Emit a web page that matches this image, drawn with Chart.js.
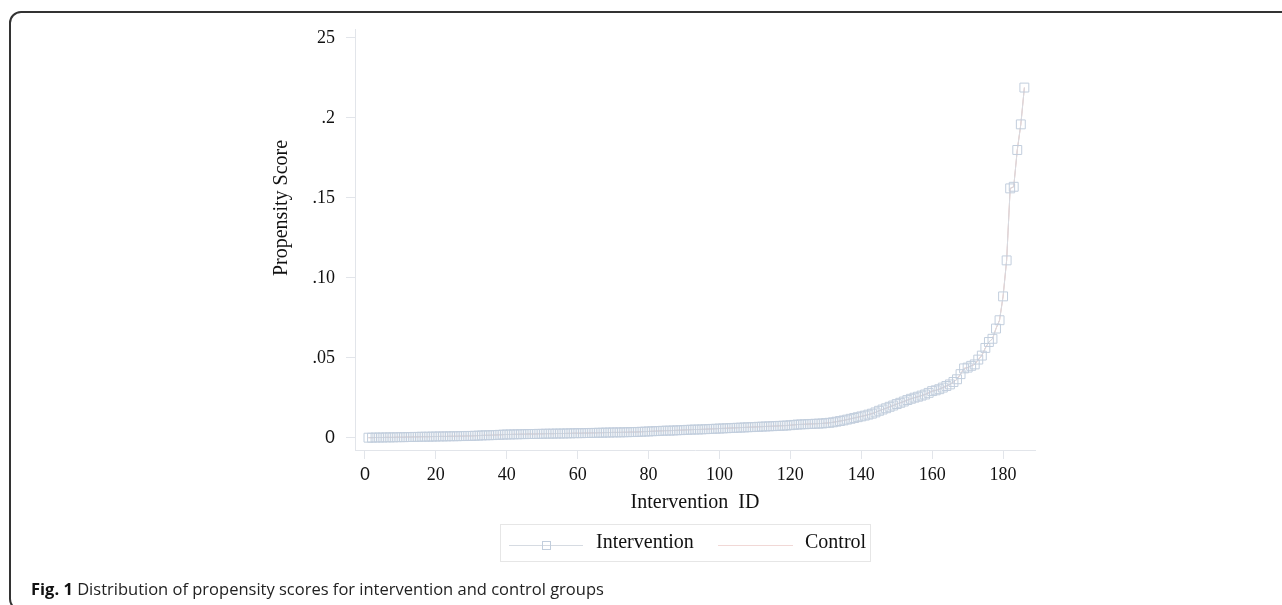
<!DOCTYPE html>
<html>
<head>
<meta charset="utf-8">
<script src="https://cdn.jsdelivr.net/npm/chart.js@4.4.1/dist/chart.umd.min.js"></script>
<style>
  html, body { margin: 0; padding: 0; background: #fff; }
  body { width: 1282px; height: 605px; position: relative; overflow: hidden; }
  #frame { position: absolute; left: 9px; top: 11px; width: 1400px; height: 600px; border: 2px solid #333; border-radius: 12px; box-sizing: border-box; }
  #wrap { position: absolute; left: 0; top: 0; width: 1282px; height: 605px; }
  #caption { position: absolute; left: 31px; top: 577px; font-family: "Open Sans"; font-size: 16.5px; color: #222; white-space: nowrap; }
  #caption b { color: #111; }
</style>
</head>
<body>
<div id="frame"></div>
<div id="wrap"><canvas id="psChart" width="1282" height="605"></canvas></div>
<div id="caption"><b>Fig. 1</b> Distribution of propensity scores for intervention and control groups</div>
<script>
// sorted propensity scores, one per intervention ID (1..186)
var interventionScores = [
  .0002,.0002,.0003,.0003,.0003,.0004,.0004,.0004,.0005,.0005,
  .0005,.0006,.0006,.0007,.0007,.0008,.0008,.0008,.0009,.0009,
  .0010,.0010,.0010,.0011,.0011,.0011,.0012,.0012,.0013,.0013,
  .0014,.0015,.0016,.0017,.0017,.0018,.0019,.0020,.0021,.0022,
  .0022,.0023,.0023,.0024,.0024,.0025,.0025,.0025,.0026,.0026,
  .0027,.0027,.0027,.0028,.0028,.0028,.0029,.0029,.0030,.0030,
  .0030,.0031,.0031,.0032,.0032,.0033,.0033,.0034,.0034,.0035,
  .0035,.0035,.0036,.0036,.0037,.0037,.0038,.0039,.0040,.0041,
  .0042,.0043,.0044,.0045,.0046,.0046,.0047,.0048,.0049,.0050,
  .0051,.0052,.0053,.0053,.0054,.0055,.0056,.0057,.0058,.0059,
  .0060,.0061,.0062,.0063,.0064,.0065,.0066,.0067,.0068,.0069,
  .0070,.0071,.0072,.0073,.0074,.0075,.0076,.0077,.0078,.0080,
  .0082,.0084,.0085,.0086,.0087,.0088,.0089,.0090,.0091,.0093,
  .0095,.0098,.0102,.0106,.0110,.0115,.0120,.0125,.0130,.0135,
  .0140,.0146,.0152,.0160,.0170,.0178,.0186,.0195,.0203,.0212,
  .0220,.0228,.0237,.0245,.0252,.0258,.0265,.0272,.0282,.0293,
  .0298,.0305,.0315,.0325,.0335,.0350,.0367,.0399,.0435,.0440,
  .0451,.0460,.0490,.0515,.0563,.0600,.0620,.0684,.0736,.0885,
  .1110,.1560,.1570,.1800,.1960,.2190
];

// matched controls, drawn over the same IDs
var controlScores = [
  .0002,.0002,.0003,.0003,.0003,.0004,.0004,.0004,.0005,.0005,
  .0005,.0006,.0006,.0007,.0007,.0008,.0008,.0008,.0009,.0009,
  .0010,.0010,.0010,.0011,.0011,.0011,.0012,.0012,.0013,.0013,
  .0014,.0015,.0016,.0017,.0017,.0018,.0019,.0020,.0021,.0022,
  .0022,.0023,.0023,.0024,.0024,.0025,.0025,.0025,.0026,.0026,
  .0027,.0027,.0027,.0028,.0028,.0028,.0029,.0029,.0030,.0030,
  .0030,.0031,.0031,.0032,.0032,.0033,.0033,.0034,.0034,.0035,
  .0035,.0035,.0036,.0036,.0037,.0037,.0038,.0039,.0040,.0041,
  .0042,.0043,.0044,.0045,.0046,.0046,.0047,.0048,.0049,.0050,
  .0051,.0052,.0053,.0053,.0054,.0055,.0056,.0057,.0058,.0059,
  .0060,.0061,.0062,.0063,.0064,.0065,.0066,.0067,.0068,.0069,
  .0070,.0071,.0072,.0073,.0074,.0075,.0076,.0077,.0078,.0080,
  .0082,.0084,.0085,.0086,.0087,.0088,.0089,.0090,.0091,.0093,
  .0095,.0098,.0102,.0106,.0110,.0115,.0120,.0125,.0130,.0135,
  .0140,.0146,.0152,.0160,.0170,.0178,.0186,.0195,.0203,.0212,
  .0220,.0228,.0237,.0245,.0252,.0258,.0265,.0272,.0282,.0293,
  .0298,.0305,.0315,.0325,.0335,.0350,.0367,.0399,.0435,.0440,
  .0451,.0460,.0490,.0515,.0563,.0600,.0620,.0684,.0736,.0885,
  .1110,.1560,.1570,.1800,.1960,.2190
];

var xTickValues = [0, 20, 40, 60, 80, 100, 120, 140, 160, 180];
var yTickValues = [0, 0.05, 0.10, 0.15, 0.20, 0.25];
var yTickLabels = ['0', '.05', '.10', '.15', '.2', '25'];
var legendLabels = ['Intervention', 'Control'];
var yTitle = 'Propensity Score';

var serif = 'Liberation Serif';
var sans = 'Liberation Sans';
var axisGrey = '#e2e5ea';
var markerColor = 'rgb(194,206,221)';
var interventionLine = 'rgb(214,219,226)';
var controlLine = 'rgba(226,160,150,0.8)';

function toPoints(arr) {
    return arr.map(function (v, i) { return { x: i + 1, y: v }; });
}

function tickFont(ctx) {
    if (ctx.tick && ctx.tick.value === 0) {
        return { family: sans, size: 18 };
    }
    return { family: serif, size: 18 };
}

// framed legend under the axis title, plus the y title (sits above centre in the original)
var extras = {
    id: 'extras',
    afterDraw: function (chart) {
        var ctx = chart.ctx;
        ctx.save();
        ctx.strokeStyle = '#e6e6e6';
        ctx.lineWidth = 1;
        ctx.strokeRect(500.5, 524.5, 370, 37);

        ctx.strokeStyle = interventionLine;
        ctx.beginPath();
        ctx.moveTo(509, 545.5);
        ctx.lineTo(583, 545.5);
        ctx.stroke();
        ctx.strokeStyle = markerColor;
        ctx.strokeRect(542.5, 541.5, 8, 8);

        ctx.strokeStyle = 'rgba(232,190,186,0.6)';
        ctx.beginPath();
        ctx.moveTo(718, 545.5);
        ctx.lineTo(793, 545.5);
        ctx.stroke();

        ctx.fillStyle = '#111';
        ctx.font = '20px "' + serif + '"';
        ctx.textBaseline = 'middle';
        ctx.fillText(legendLabels[0], 596, 543);
        ctx.fillText(legendLabels[1], 805, 543);

        ctx.translate(282, 208);
        ctx.rotate(-Math.PI / 2);
        ctx.textAlign = 'center';
        ctx.fillText(yTitle, 0, 0);
        ctx.restore();
    }
};

var psData = {
    datasets: [{
        label: legendLabels[0],
        data: toPoints(interventionScores),
        borderColor: interventionLine,
        borderWidth: 1,
        pointStyle: 'rect',
        pointRadius: 6.3,
        pointBorderWidth: 1,
        pointBorderColor: markerColor,
        pointBackgroundColor: 'rgba(0,0,0,0)',
        tension: 0
    }, {
        label: legendLabels[1],
        data: toPoints(controlScores),
        borderColor: controlLine,
        borderWidth: 1,
        pointRadius: 0,
        tension: 0
    }]
};

var psConfig = {
    type: 'line',
    data: psData,
    plugins: [extras],
    options: {
        responsive: false,
        animation: false,
        layout: { padding: { left: 0, right: 247, top: 29, bottom: 0 } },
        plugins: {
            legend: { display: false },
            tooltip: { enabled: false }
        },
        scales: {
            x: {
                type: 'linear',
                min: -2.8,
                max: 189,
                border: { color: axisGrey },
                grid: { drawOnChartArea: false, color: axisGrey, tickLength: 9 },
                ticks: {
                    color: '#111',
                    font: tickFont,
                    padding: 5,
                    maxRotation: 0,
                    autoSkip: false,
                    callback: function (v) { return String(v); }
                },
                afterBuildTicks: function (axis) {
                    axis.ticks = xTickValues.map(function (v) { return { value: v }; });
                },
                afterFit: function (scale) { scale.height = 155; },
                title: {
                    display: true,
                    text: 'Intervention  ID',
                    color: '#111',
                    font: { family: serif, size: 20 },
                    padding: { top: 0, bottom: 90 }
                }
            },
            y: {
                type: 'linear',
                min: -0.0075,
                max: 0.2556,
                border: { color: axisGrey },
                grid: { drawOnChartArea: false, color: axisGrey, tickLength: 9 },
                ticks: {
                    color: '#111',
                    font: tickFont,
                    padding: 11,
                    callback: function (v) {
                        var i = yTickValues.findIndex(function (t) { return Math.abs(t - v) < 1e-9; });
                        return i >= 0 ? yTickLabels[i] : '';
                    }
                },
                afterBuildTicks: function (axis) {
                    axis.ticks = yTickValues.map(function (v) { return { value: v }; });
                },
                afterFit: function (scale) { scale.width = 355; },
                title: { display: false }
            }
        }
    }
};

var psChart = new Chart(document.getElementById('psChart'), psConfig);
</script>
</body>
</html>
